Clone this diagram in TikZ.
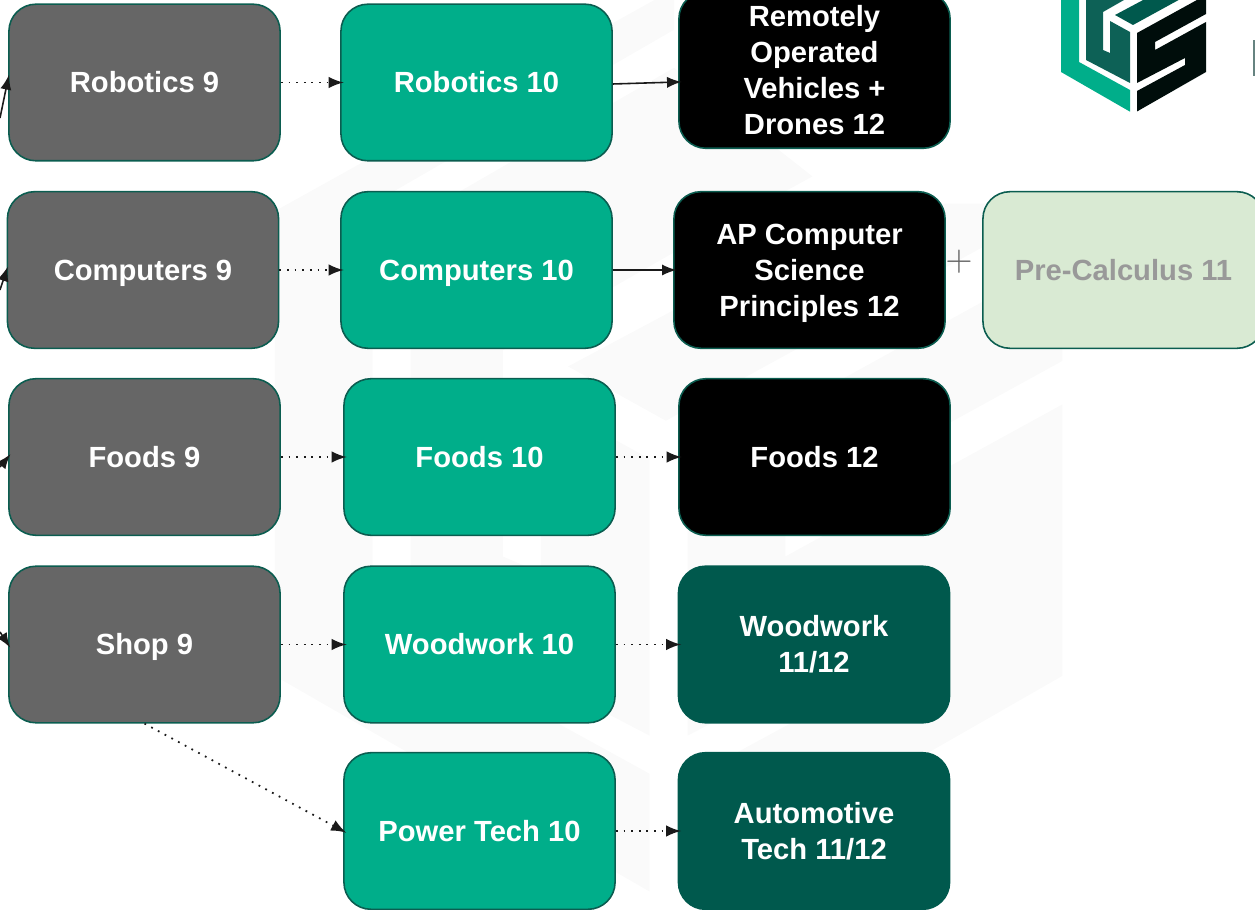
\documentclass[tikz,border=0pt]{standalone}
\usepackage{fontspec}
\setmainfont{Liberation Sans}
\definecolor{edgegreen}{HTML}{0B5D50}
\definecolor{midgreen}{HTML}{00AE8A}
\definecolor{darkgreen}{HTML}{00594D}
\definecolor{palegreen}{HTML}{D9EAD3}
\definecolor{nearblack}{HTML}{1A1A1A}
\definecolor{wmark}{HTML}{FAFAFA}
\newcommand{\capstrut}{\rule[-0.21em]{0pt}{1.136em}}
\tikzset{
	course/.style={draw=edgegreen,line width=0.45pt,rounded corners=0.27cm,minimum width=2.71cm,minimum height=1.565cm,inner sep=0pt,align=center,text=white,font=\fontsize{8.3}{10.24}\selectfont\bfseries,execute at begin node=\capstrut},
	grade9/.style={course,fill=black!60},
	grade10/.style={course,fill=midgreen},
	senior/.style={course,fill=black},
	trade/.style={course,fill=darkgreen,draw=darkgreen},
	link/.style={-latex,draw=nearblack,line width=0.45pt,shorten >=-1pt},
	dotlink/.style={link,line width=0.5pt,dash pattern=on 0.5pt off 1.67pt}
}
\newcommand{\logopieces}[4]{
	\fill [#1] (-73.5,72)--(-4.5,111.7)--(-4.5,90)--(-55.5,62)--(-55.5,-15)--(0,-47)--(0,-54.5)--(-73.5,-13.6)--cycle;
	\fill [#2] (-48.5,60)--(-4.5,83)--(-4.5,32)--(-24.5,21)--(-24.5,53)--(-31.5,50)--(-31.5,12)--(0,-6)--(25.5,-20)--(0,-40)--(-48.5,-12)--cycle;
	\fill [#3] (-19.5,15)--(-1.5,25)--(71.5,-15)--(37.5,-15)--(25.5,-9)--cycle;
	\fill [#4] (2.5,33)--(71.5,-5)--(71.5,14)--(20.5,42)--(20.5,50)--(71.5,22)--(71.5,72)--(2.5,111.5)--(2.5,91)--(50.5,65)--(50.5,58)--(2.5,83)--cycle;
}
\begin{document}
\begin{tikzpicture}[x=0.01cm,y=-0.01cm]
	\useasboundingbox (0,0) rectangle (1255,910);
	\clip (0,0) rectangle (1255,910);
	\begin{scope}[shift={(674,285)},scale=5.43]
		\logopieces{wmark}{wmark}{wmark}{wmark}
	\end{scope}
	\begin{scope}[shift={(1134.5,0)}]
		\logopieces{midgreen}{darkgreen!95!white}{darkgreen}{black!85!darkgreen}
	\end{scope}
	\fill [black!45!darkgreen!60!white] (1253,40) rectangle (1255,76);

	\node at(144.5,82.5) [grade9] (rob9) {Robotics 9};
	\node at(143,270) [grade9] (comp9) {Computers 9};
	\node at(144.5,457) [grade9] (foods9) {Foods 9};
	\node at(144.5,644.5) [grade9] (shop9) {Shop 9};

	\node at(476.5,82.5) [grade10] (rob10) {Robotics 10};
	\node at(476.5,270) [grade10] (comp10) {Computers 10};
	\node at(479.5,457) [grade10] (foods10) {Foods 10};
	\node at(479.5,644.5) [grade10] (wood10) {Woodwork 10};
	\node at(479.5,831) [grade10] (power10) {Power Tech 10};

	\node at(814.5,70) [senior] (rov12) {\capstrut Remotely\\Operated\\Vehicles +\\Drones 12};
	\node at(809.5,270) [senior] (apcs12) {\capstrut AP Computer\\Science\\Principles 12};
	\node at(814.5,457) [senior] (foods12) {Foods 12};
	\node at(814,644.5) [trade] (wood12) {\capstrut Woodwork\\11/12};
	\node at(814,831) [trade] (auto12) {\capstrut Automotive\\Tech 11/12};

	\node at(1123.5,270) [course,fill=palegreen,minimum width=2.81cm,text=black!40] (precalc) {Pre-Calculus 11};
	\node at(959,262) [inner sep=0pt,text=black!60,font=\fontsize{10}{12}\selectfont] (plus) {$+$};

	\coordinate (inrob) at (0,118);
	\coordinate (incomp) at (0,290);
	\coordinate (infoods) at (0,467);
	\coordinate (inshop) at (0,632);
	\draw [link] (inrob)--([yshift=0.04cm]rob9.west);
	\foreach \a/\b in {incomp/comp9,infoods/foods9,inshop/shop9}
		\draw [link] (\a)--(\b.west);

	\foreach \a/\b in {rob9/rob10,comp9/comp10,foods9/foods10,shop9/wood10,foods10/foods12,wood10/wood12,power10/auto12}
		\draw [dotlink] (\a)--(\b);
	\draw [dotlink] (shop9.south)--(power10.west);

	\draw [link] ([yshift=-0.015cm]rob10.east)--([yshift=-0.12cm]rov12.west);
	\draw [link] (comp10.east)--(apcs12.west);
\end{tikzpicture}
\end{document}
